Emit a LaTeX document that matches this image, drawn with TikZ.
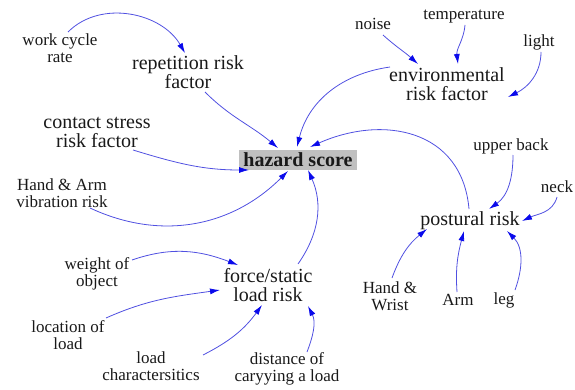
\documentclass[tikz,border=0pt]{standalone}
\usepackage{fontspec}
\setmainfont{Liberation Serif}
\newfontfamily\tnr{Liberation Serif}
\usetikzlibrary{arrows.meta,calc}
\definecolor{boxgray}{RGB}{192,192,192}
\definecolor{linkblue}{RGB}{80,80,225}
\definecolor{tipblue}{RGB}{10,10,235}
\definecolor{txt}{RGB}{25,25,25}
\tikzset{
  lbl/.style={font=\tnr\fontsize{17}{17}\selectfont, align=center, inner sep=0pt, text=txt},
  mainlbl/.style={font=\tnr\fontsize{20}{19}\selectfont, align=center, inner sep=0pt, text=txt},
  hzbox/.style={fill=boxgray, font=\tnr\bfseries\fontsize{20}{20}\selectfont, minimum width=118pt, minimum height=20pt, inner sep=0pt, text=txt},
  arr/.style={draw=linkblue, line width=0.8pt, -{Latex[length=10pt,width=6pt,color=tipblue]}},
}
\begin{document}
\begin{tikzpicture}[x=1pt,y=1pt]
\useasboundingbox (0,0) rectangle (575,389);
% nodes
\node[lbl] (wcr) at (60,341) {work cycle\\rate};
\node[mainlbl] (rep) at (188,317) {repetition risk\\factor};
\node[mainlbl] (csr) at (97,257) {contact stress\\risk factor};
\node[hzbox] (hz) at (298,229) {hazard score};
\node[lbl] (hav) at (62,196) {Hand \& Arm\\vibration risk};
\node[mainlbl] (env) at (447,305) {environmental\\risk factor};
\node[lbl] (noise) at (373,365) {noise};
\node[lbl] (temp) at (464,372) {temperature};
\node[lbl] (light) at (539,347) {light};
\node[lbl] (ub) at (511,243) {upper back};
\node[lbl] (neck) at (557,202) {neck};
\node[mainlbl] (pr) at (470,168) {postural risk};
\node[lbl] (hw) at (390,93) {Hand \&\\Wrist};
\node[lbl] (arm) at (458,89) {Arm};
\node[lbl] (leg) at (504,89) {leg};
\node[mainlbl] (frc) at (268,104) {force/static\\load risk};
\node[lbl] (woo) at (97,115) {weight of\\object};
\node[lbl] (lol) at (68,54) {location of\\load};
\node[lbl] (lch) at (151,23) {load\\charactersitics};
\node[lbl] (dist) at (287,20) {distance of\\caryying a load};
% connectors
\draw[arr] ($(wcr)+(8,16)$) to[out=45,in=120] ($(rep)+(-3,19)$);
\draw[arr] ($(rep)+(17,-20)$) to[out=-45,in=140] ($(hz)+(-20,12)$);
\draw[arr] ($(csr)+(36,-18)$) to[out=-17,in=180] ($(hz)+(-49,-10)$);
\draw[arr] ($(hav)+(28,-15)$) to[out=-25,in=225] ($(hz)+(-10,-11)$);
\draw[arr] ($(env)+(-57,17)$) to[out=188,in=76] ($(hz)+(-1,13)$);
\draw[arr] ($(noise)+(10,-11)$) to[out=-42,in=138] ($(env)+(-29,20)$);
\draw[arr] ($(temp)+(1,-8)$) to[out=-95,in=97] ($(env)+(11,20)$);
\draw[arr] ($(light)+(2,-10)$) to[out=-90,in=26] ($(env)+(61,-13)$);
\draw[arr] ($(pr)+(-1,12)$) to[out=95,in=24,looseness=1.2] ($(hz)+(12,13)$);
\draw[arr] ($(ub)+(2,-9)$) to[out=-90,in=35] ($(pr)+(19,12)$);
\draw[arr] ($(neck)+(0,-10)$) to[out=-105,in=25] ($(pr)+(52,0)$);
\draw[arr] ($(hw)+(2,18)$) to[out=70,in=219] ($(pr)+(-43,-8)$);
\draw[arr] ($(arm)+(-1,8)$) to[out=94,in=255] ($(pr)+(-6,-10)$);
\draw[arr] ($(leg)+(11,10)$) to[out=70,in=315] ($(pr)+(37,-10)$);
\draw[arr] ($(woo)+(35,14)$) to[out=19,in=159] ($(frc)+(-30,20)$);
\draw[arr] ($(lol)+(38,17)$) to[out=24,in=188] ($(frc)+(-48,-5)$);
\draw[arr] ($(lch)+(52,11)$) to[out=27,in=234] ($(frc)+(-6,-20)$);
\draw[arr] ($(dist)+(20,17)$) to[out=69,in=297] ($(frc)+(40,-21)$);
\draw[arr] ($(frc)+(30,21)$) to[out=55,in=294] ($(hz)+(10,-10)$);
\end{tikzpicture}
\end{document}
